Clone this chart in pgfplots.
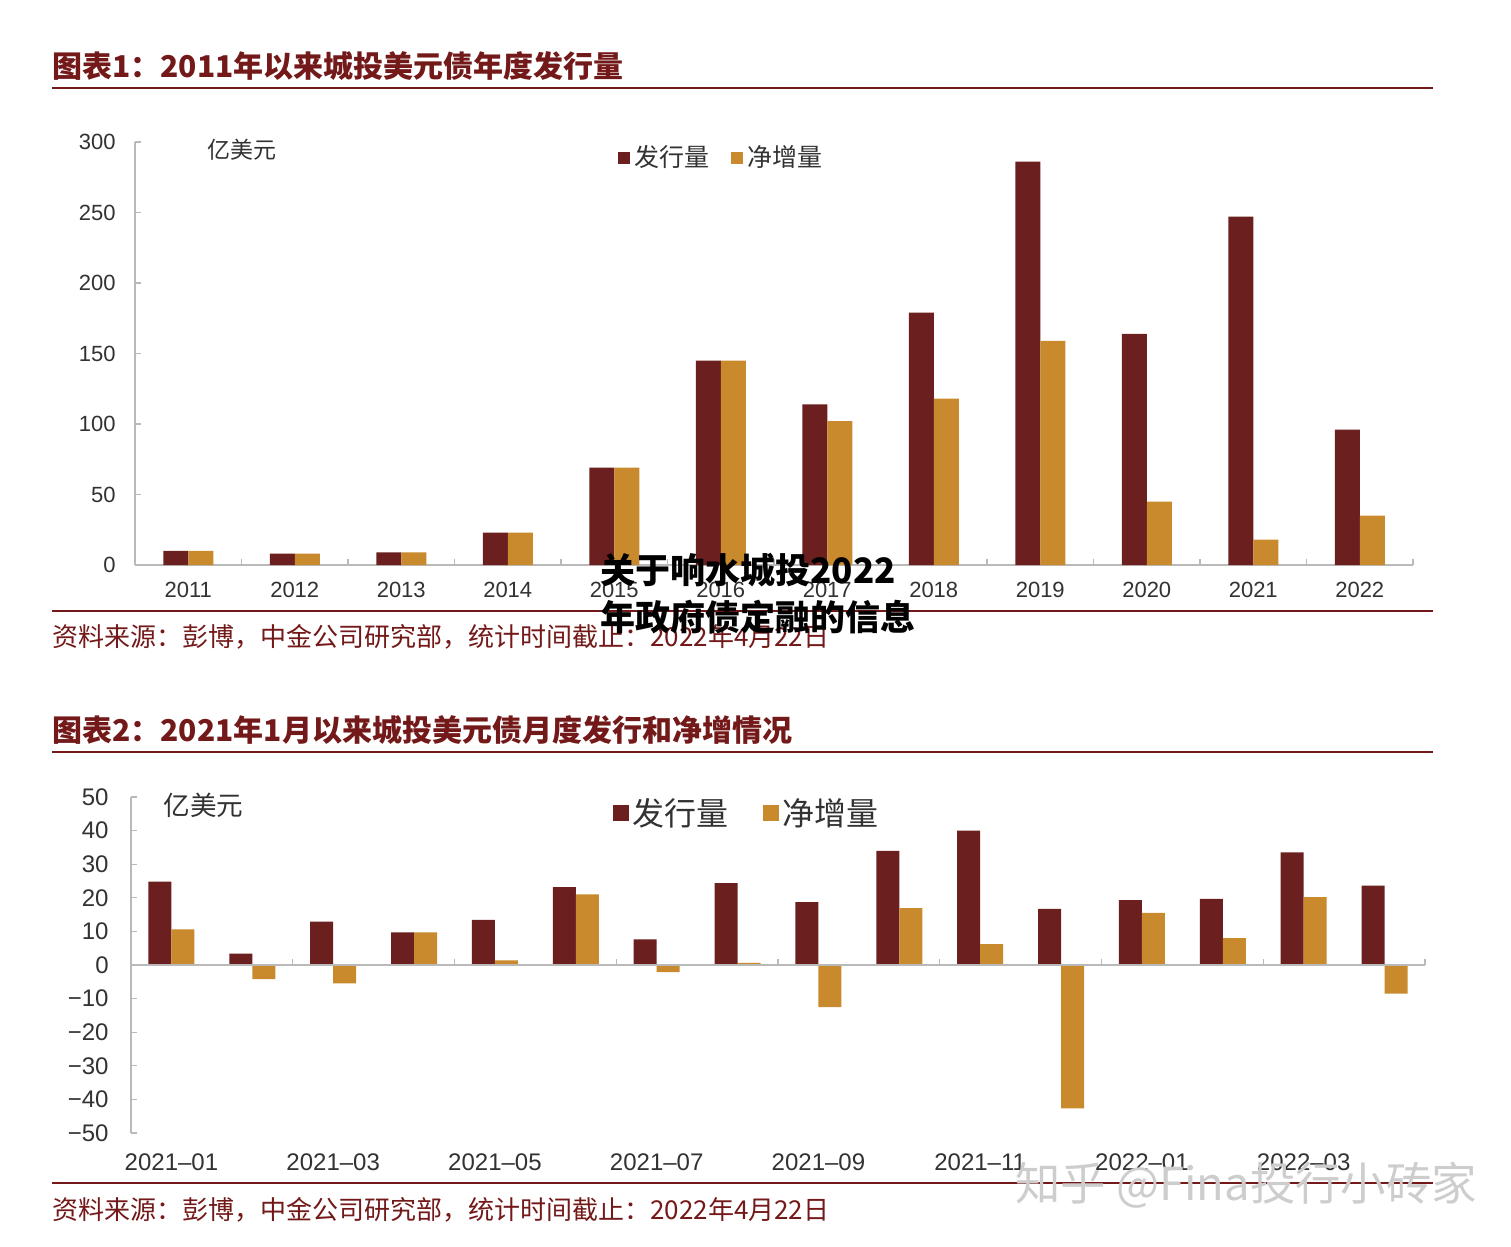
\documentclass[border=0pt]{standalone}
\usepackage{pgfplots}
\pgfplotsset{compat=1.18}
\usepackage{fontspec}
\setmainfont{Liberation Sans}
\newfontfamily\cjk{Noto Sans CJK SC}
\definecolor{bard}{RGB}{107,31,31}
\definecolor{baro}{RGB}{201,138,46}
\definecolor{maroon}{RGB}{115,25,25}
\definecolor{axg}{RGB}{185,185,185}
\definecolor{tkl}{RGB}{50,50,50}
\definecolor{wm}{RGB}{205,205,205}
\begin{document}
\begin{tikzpicture}
\useasboundingbox (0,0) rectangle (755.5pt,-623.5pt);
\fill[white] (0,0) rectangle (755.5pt,-623.5pt);
% ---------- chart 1 frame ----------
\node[anchor=west, inner sep=0pt, text=maroon, font=\cjk\bfseries\fontsize{15}{18}\selectfont] at (26pt,-33pt) {图表1：2011年以来城投美元债年度发行量};
\draw[maroon, line width=1pt] (26pt,-44pt) -- (716.5pt,-44pt);
\draw[maroon, line width=0.7pt] (26pt,-305.5pt) -- (716.5pt,-305.5pt);
\node[anchor=west, inner sep=0pt, text=maroon, font=\cjk\fontsize{13}{15}\selectfont] at (26pt,-318.5pt) {资料来源：彭博，中金公司研究部，统计时间截止：2022年4月22日};
\begin{axis}[
  at={(67.5pt,-282.5pt)}, anchor=south west, scale only axis,
  width=639pt, height=211.5pt,
  ybar=0pt, bar width=12.5pt,
  xmin=-0.5, xmax=11.5, ymin=0, ymax=300,
  axis x line*=bottom, axis y line*=left,
  axis line style={axg, line width=0.6pt},
  tick align=inside, major tick length=3pt,
  tick style={axg, line width=0.6pt},
  xtick={0.5,1.5,2.5,3.5,4.5,5.5,6.5,7.5,8.5,9.5,10.5,11.5},
  xticklabels={},
  extra x ticks={0,1,2,3,4,5,6,7,8,9,10,11},
  extra x tick labels={2011,2012,2013,2014,2015,2016,2017,2018,2019,2020,2021,2022},
  extra x tick style={major tick length=0pt},
  ytick={0,50,100,150,200,250,300},
  yticklabels={0,50,100,150,200,250,300},
  xticklabel style={font=\fontsize{11}{13}\selectfont, text=tkl, inner sep=0pt, yshift=-8.3pt},
  yticklabel style={font=\fontsize{11}{13}\selectfont, text=tkl, inner sep=0pt, xshift=-9.5pt},
  legend style={at={(0.378,0.963)}, anchor=west, draw=none, fill=none,
    legend columns=2, font=\cjk\fontsize{12.5}{14}\selectfont, text=tkl,
    inner sep=0pt, /tikz/every even column/.append style={column sep=9pt}},
  clip=false,
]
\addplot[fill=bard, draw=none, legend image code/.code={\fill[bard] (0pt,-3pt) rectangle (6pt,3pt);}]
  coordinates {(0,10) (1,8) (2,9) (3,23) (4,69) (5,145) (6,114) (7,179) (8,286) (9,164) (10,247) (11,96)};
\addlegendentry{发行量}
\addplot[fill=baro, draw=none, legend image code/.code={\fill[baro] (0pt,-3pt) rectangle (6pt,3pt);}]
  coordinates {(0,10) (1,8) (2,9) (3,23) (4,69) (5,145) (6,102) (7,118) (8,159) (9,45) (10,18) (11,35)};
\addlegendentry{净增量}
\end{axis}
\node[anchor=west, inner sep=0pt, text=tkl, font=\cjk\fontsize{11.5}{13}\selectfont] at (103.5pt,-75pt) {亿美元};
% ---------- chart 2 frame ----------
\node[anchor=west, inner sep=0pt, text=maroon, font=\cjk\bfseries\fontsize{15}{18}\selectfont] at (26pt,-365pt) {图表2：2021年1月以来城投美元债月度发行和净增情况};
\draw[maroon, line width=1pt] (26pt,-376pt) -- (716.5pt,-376pt);
\draw[maroon, line width=0.7pt] (26pt,-591.5pt) -- (716.5pt,-591.5pt);
\node[anchor=west, inner sep=0pt, text=maroon, font=\cjk\fontsize{13}{15}\selectfont] at (26pt,-605pt) {资料来源：彭博，中金公司研究部，统计时间截止：2022年4月22日};
\begin{axis}[
  at={(65.5pt,-566.5pt)}, anchor=south west, scale only axis,
  width=647pt, height=168pt,
  ybar=0pt, bar width=11.5pt,
  xmin=-0.5, xmax=15.5, ymin=-50, ymax=50,
  axis x line*=bottom, axis y line*=left,
  axis line style={axg, line width=0.6pt},
  x axis line style={draw=none},
  tick align=inside, major tick length=3pt,
  tick style={axg, line width=0.6pt},
  xtick={0,2,4,6,8,10,12,14},
  xticklabels={2021–01,2021–03,2021–05,2021–07,2021–09,2021–11,2022–01,2022–03},
  major x tick style={draw=none},
  ytick={-50,-40,-30,-20,-10,0,10,20,30,40,50},
  yticklabels={−50,−40,−30,−20,−10,0,10,20,30,40,50},
  xticklabel style={font=\fontsize{12}{14}\selectfont, text=tkl, inner sep=0pt, yshift=-10pt},
  yticklabel style={font=\fontsize{12}{14}\selectfont, text=tkl, inner sep=0pt, xshift=-11pt},
  legend style={at={(0.372,0.952)}, anchor=west, draw=none, fill=none,
    legend columns=2, font=\cjk\fontsize{16}{18}\selectfont, text=tkl,
    inner sep=0pt, /tikz/every even column/.append style={column sep=15pt}},
  clip=false,
]
\addplot[fill=bard, draw=none, legend image code/.code={\fill[bard] (0pt,-4pt) rectangle (8pt,4pt);}]
  coordinates {(0,24.8) (1,3.4) (2,12.9) (3,9.7) (4,13.4) (5,23.2) (6,7.6) (7,24.4) (8,18.7) (9,34.0) (10,40.0) (11,16.7) (12,19.3) (13,19.7) (14,33.5) (15,23.6)};
\addlegendentry{发行量}
\addplot[fill=baro, draw=none, legend image code/.code={\fill[baro] (0pt,-4pt) rectangle (8pt,4pt);}]
  coordinates {(0,10.6) (1,-4.2) (2,-5.5) (3,9.7) (4,1.4) (5,21.0) (6,-2.1) (7,0.6) (8,-12.5) (9,16.9) (10,6.2) (11,-42.7) (12,15.5) (13,8.0) (14,20.2) (15,-8.5)};
\addlegendentry{净增量}
\draw[axg, line width=0.6pt] (axis cs:-0.5,0) -- (axis cs:15.5,0);
\pgfplotsinvokeforeach{1.5,3.5,5.5,7.5,9.5,11.5,13.5,15.5}{\draw[axg, line width=0.6pt] (axis cs:#1,0) -- ++(0pt,3pt);}
\end{axis}
\node[anchor=west, inner sep=0pt, text=tkl, font=\cjk\fontsize{13.3}{15}\selectfont] at (81.5pt,-402.5pt) {亿美元};
% ---------- overlays ----------
\node[anchor=west, inner sep=0pt, text=wm, font=\cjk\fontsize{22.7}{24}\selectfont] at (507.5pt,-592.5pt) {知乎 @Fina投行小砖家};
\node[anchor=west, inner sep=0pt, text=black, font=\cjk\bfseries\fontsize{17.5}{20}\selectfont] at (300pt,-285pt) {关于响水城投2022};
\node[anchor=west, inner sep=0pt, text=black, font=\cjk\bfseries\fontsize{17.5}{20}\selectfont] at (300pt,-308.5pt) {年政府债定融的信息};
\end{tikzpicture}
\end{document}
